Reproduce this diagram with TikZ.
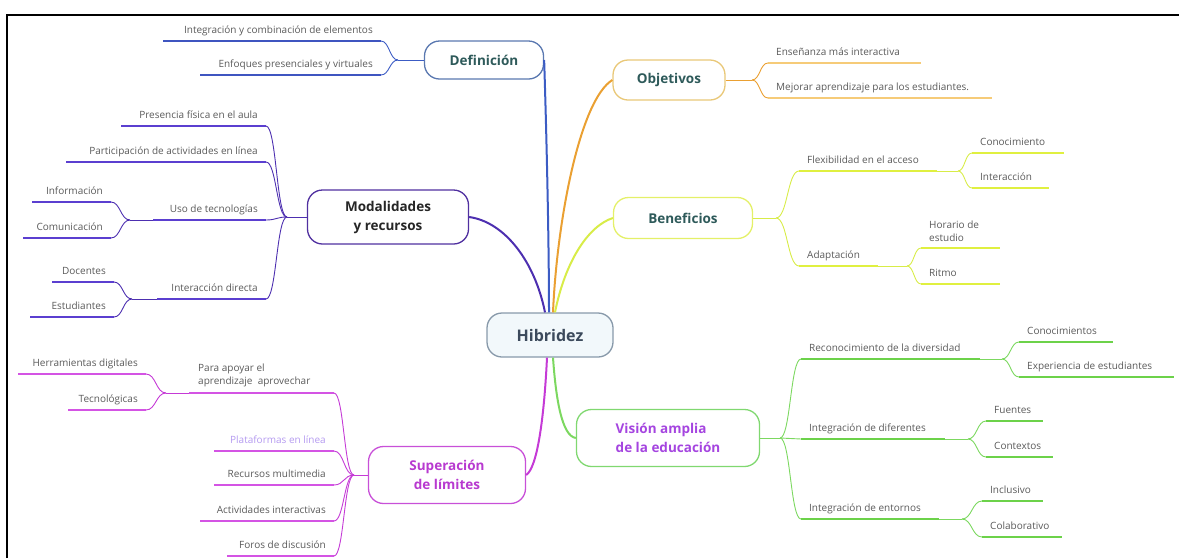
\documentclass[tikz,border=0pt]{standalone}
\usepackage{fontspec}
\setmainfont{Open Sans}
\usetikzlibrary{calc}
\definecolor{defc}{HTML}{3C5CC4}
\definecolor{defu}{HTML}{3F55C0}
\definecolor{defb}{HTML}{5A78B0}
\definecolor{objc}{HTML}{EAA032}
\definecolor{obju}{HTML}{F6CB78}
\definecolor{objb}{HTML}{E9C878}
\definecolor{benc}{HTML}{D8EC48}
\definecolor{benu}{HTML}{E0F040}
\definecolor{benb}{HTML}{E4F068}
\definecolor{modc}{HTML}{4D2FB0}
\definecolor{modu}{HTML}{5B3FD0}
\definecolor{modb}{HTML}{5030A0}
\definecolor{supc}{HTML}{C53AD6}
\definecolor{supu}{HTML}{D454E4}
\definecolor{supb}{HTML}{C850D8}
\definecolor{visc}{HTML}{7CD860}
\definecolor{visu}{HTML}{6CD24A}
\definecolor{visb}{HTML}{80D870}
\definecolor{hibb}{HTML}{8899AA}
\definecolor{hibf}{HTML}{F2F8FB}
\definecolor{tealt}{HTML}{2E5A5A}
\definecolor{hibt}{HTML}{3C4A5C}
\definecolor{supt}{HTML}{B83AD0}
\definecolor{vist}{HTML}{A545E0}
\definecolor{leafg}{HTML}{5A5A5A}
\definecolor{lavt}{HTML}{B49AF0}
\tikzset{
  mainnode/.style={draw, line width=1.3pt, rounded corners=15pt, fill=white, inner sep=0pt, align=center,
     font=\fontsize{13.5}{19}\selectfont\bfseries},
  leaf/.style={inner sep=0pt, text=leafg, font=\fontsize{10}{13}\selectfont},
  ul/.style={line width=2.8pt},
  cn/.style={line width=0.9pt},
  mainln/.style={line width=2pt},
}
\newcommand{\Lleaf}[6]{%
  \coordinate (#1a) at (#2,#4);
  \coordinate (#1b) at (#3,#4);
  \node[leaf, anchor=base east] (#1) at (#3-8,#4-8) {#6};
  \draw[ul,#5] (#1a) -- (#1b);}
\newcommand{\Rleaf}[6]{%
  \coordinate (#1a) at (#2,#4);
  \coordinate (#1b) at (#3,#4);
  \node[leaf, anchor=base west] (#1) at (#2+8,#4-8) {#6};
  \draw[ul,#5] (#1a) -- (#1b);}
\newcommand{\linkS}[3]{\draw[cn,#1] let \p1=(#2), \p2=(#3) in (\p1) .. controls (0.5*\x1+0.5*\x2,\y1) and (0.5*\x1+0.5*\x2,\y2) .. (\p2);}
\begin{document}
\begin{tikzpicture}[x=1pt,y=-1pt]
\useasboundingbox (0,0) rectangle (1179,558);
\draw[line width=2.2pt] (7,558) -- (7,15) -- (1179,15);

% main nodes
\node[mainnode, draw=hibb, fill=hibf, text=hibt, minimum width=126pt, minimum height=44pt, font=\fontsize{16}{19}\selectfont\bfseries] (hib) at (550,335) {Hibridez};
\node[mainnode, draw=defb, text=tealt, minimum width=119pt, minimum height=38pt] (def) at (484,60) {Definición};
\node[mainnode, draw=objb, text=tealt, minimum width=112pt, minimum height=40pt] (obj) at (669,80) {Objetivos};
\node[mainnode, draw=benb, text=tealt, minimum width=139pt, minimum height=41pt] (ben) at (683,218) {Beneficios};
\node[mainnode, draw=modb, text=black!85, minimum width=161pt, minimum height=54pt] (mod) at (388,217) {Modalidades\\y recursos};
\node[mainnode, draw=supb, text=supt, minimum width=157pt, minimum height=57pt] (sup) at (447,475) {Superación\\de límites};
\node[mainnode, draw=visb, text=vist, minimum width=183pt, minimum height=57pt, align=left] (vis) at (668,438) {Visión amplia\\de la educación};

% main connectors
\draw[mainln, defc] (def.east) .. controls (547,150) and (549,250) .. ([xshift=-1pt]hib.north);
\draw[mainln, objc] ([xshift=3pt]hib.north) .. controls (557,220) and (580,100) .. (obj.west);
\draw[mainln, benc] ([xshift=5pt]hib.north) .. controls (565,262) and (588,226) .. (ben.west);
\draw[mainln, modc] ([xshift=-5pt]hib.north) .. controls (535,262) and (505,222) .. (mod.east);
\draw[mainln, supc] ([xshift=-3pt]hib.south) .. controls (544,420) and (537,468) .. (sup.east);
\draw[mainln, visc] ([xshift=3pt]hib.south) .. controls (556,400) and (562,436) .. (vis.west);

% Definicion
\coordinate (D0) at (398,60);
\Lleaf{d1}{163}{381}{41}{defu}{Integración y combinación de elementos}
\Lleaf{d2}{200}{381}{75}{defu}{Enfoques presenciales y virtuales}
\draw[cn,defc] (def.west) -- (D0);
\linkS{defc}{d1b}{D0}
\linkS{defc}{d2b}{D0}

% Modalidades
\coordinate (M0) at (287,217);
\Lleaf{m1}{121}{266}{126}{modu}{Presencia física en el aula}
\Lleaf{m2}{66}{266}{162}{modu}{Participación de actividades en línea}
\Lleaf{m3}{153}{266}{220}{modu}{Uso de tecnologías}
\Lleaf{m4}{157}{266}{299}{modu}{Interacción directa}
\draw[cn,modc] (mod.west) -- (M0);
\linkS{modc}{m1b}{M0}
\linkS{modc}{m2b}{M0}
\linkS{modc}{m3b}{M0}
\linkS{modc}{m4b}{M0}
\coordinate (M3) at (130,220);
\Lleaf{m31}{32}{111}{202}{modu}{Información}
\Lleaf{m32}{23}{111}{238}{modu}{Comunicación}
\draw[cn,modc] (m3a) -- (M3);
\linkS{modc}{m31b}{M3}
\linkS{modc}{m32b}{M3}
\coordinate (M4) at (132,299);
\Lleaf{m41}{52}{114}{282}{modu}{Docentes}
\Lleaf{m42}{30}{114}{317}{modu}{Estudiantes}
\draw[cn,modc] (m4a) -- (M4);
\linkS{modc}{m41b}{M4}
\linkS{modc}{m42b}{M4}

% Superacion
\coordinate (S0) at (354,475);
\coordinate (s1a) at (189,393);
\coordinate (s1b) at (334,393);
\node[leaf, anchor=south west, align=left] (s1) at (198,387) {Para apoyar el\\aprendizaje\ \ aprovechar};
\draw[ul,supu] (s1a) -- (s1b);
\node[leaf, anchor=base east, text=lavt] (s2) at (326,443) {Plataformas en línea};
\coordinate (s2a) at (214,451);
\coordinate (s2b) at (334,451);
\draw[ul,supu] (s2a) -- (s2b);
\Lleaf{s3}{214}{334}{485}{supu}{Recursos multimedia}
\Lleaf{s4}{200}{334}{521}{supu}{Actividades interactivas}
\Lleaf{s5}{227}{334}{556}{supu}{Foros de discusión}
\draw[cn,supc] (sup.west) -- (S0);
\linkS{supc}{s1b}{S0}
\linkS{supc}{s2b}{S0}
\linkS{supc}{s3b}{S0}
\linkS{supc}{s4b}{S0}
\linkS{supc}{s5b}{S0}
\coordinate (S1) at (166,393);
\Lleaf{s11}{18}{146}{374}{supu}{Herramientas digitales}
\Lleaf{s12}{68}{146}{410}{supu}{Tecnológicas}
\draw[cn,supc] (s1a) -- (S1);
\linkS{supc}{s11b}{S1}
\linkS{supc}{s12b}{S1}

% Objetivos
\coordinate (O0) at (752,80);
\Rleaf{o1}{768}{921}{63}{obju}{Enseñanza más interactiva}
\Rleaf{o2}{768}{992}{98}{obju}{Mejorar aprendizaje para los estudiantes.}
\draw[cn,objc] (obj.east) -- (O0);
\linkS{objc}{O0}{o1a}
\linkS{objc}{O0}{o2a}

% Beneficios
\coordinate (B0) at (776,218);
\Rleaf{b1}{799}{937}{171}{benu}{Flexibilidad en el acceso}
\Rleaf{b2}{799}{878}{266}{benu}{Adaptación}
\draw[cn,benc] (ben.east) -- (B0);
\linkS{benc}{B0}{b1a}
\linkS{benc}{B0}{b2a}
\coordinate (B1) at (958,171);
\Rleaf{b11}{972}{1064}{153}{benu}{Conocimiento}
\Rleaf{b12}{972}{1049}{188}{benu}{Interacción}
\draw[cn,benc] (b1b) -- (B1);
\linkS{benc}{B1}{b11a}
\linkS{benc}{B1}{b12a}
\coordinate (B2) at (907,266);
\coordinate (b21a) at (921,248);
\coordinate (b21b) at (1000,248);
\node[leaf, anchor=south west, align=left] (b21) at (929,242) {Horario de\\estudio};
\draw[ul,benu] (b21a) -- (b21b);
\Rleaf{b22}{921}{1000}{284}{benu}{Ritmo}
\draw[cn,benc] (b2b) -- (B2);
\linkS{benc}{B2}{b21a}
\linkS{benc}{B2}{b22a}

% Vision
\coordinate (V0) at (780,438);
\Rleaf{v1}{801}{980}{359}{visu}{Reconocimiento de la diversidad}
\Rleaf{v2}{801}{945}{439}{visu}{Integración de diferentes}
\Rleaf{v3}{801}{939}{519}{visu}{Integración de entornos}
\draw[cn,visc] (vis.east) -- (V0);
\linkS{visc}{V0}{v1a}
\linkS{visc}{V0}{v2a}
\linkS{visc}{V0}{v3a}
\coordinate (V1) at (1002,359);
\Rleaf{v11}{1019}{1113}{342}{visu}{Conocimientos}
\Rleaf{v12}{1019}{1174}{377}{visu}{Experiencia de estudiantes}
\draw[cn,visc] (v1b) -- (V1);
\linkS{visc}{V1}{v11a}
\linkS{visc}{V1}{v12a}
\coordinate (V2) at (968,439);
\Rleaf{v21}{986}{1043}{421}{visu}{Fuentes}
\Rleaf{v22}{986}{1053}{457}{visu}{Contextos}
\draw[cn,visc] (v2b) -- (V2);
\linkS{visc}{V2}{v21a}
\linkS{visc}{V2}{v22a}
\coordinate (V3) at (962,519);
\Rleaf{v31}{982}{1043}{501}{visu}{Inclusivo}
\Rleaf{v32}{982}{1062}{537}{visu}{Colaborativo}
\draw[cn,visc] (v3b) -- (V3);
\linkS{visc}{V3}{v31a}
\linkS{visc}{V3}{v32a}
\end{tikzpicture}
\end{document}
